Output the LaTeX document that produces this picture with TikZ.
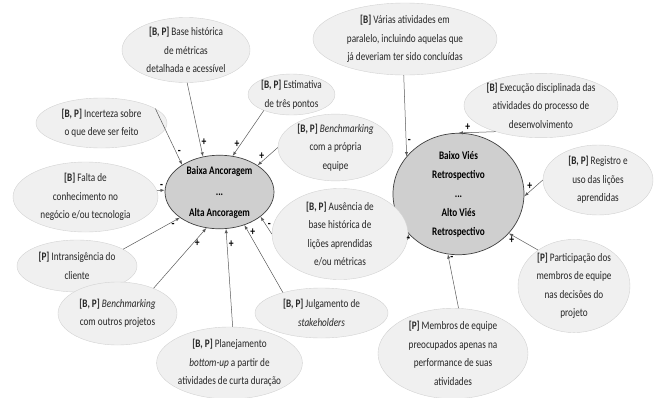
\documentclass[tikz,border=0pt]{standalone}
\usepackage{fontspec}
\setmainfont{Carlito}[FakeStretch=0.8]
\usetikzlibrary{shapes.geometric}

\begin{document}
\begin{tikzpicture}[x=1pt,y=-1pt,
    fator/.style={ellipse,draw=gray!35,fill=gray!12,inner sep=0pt,align=center,
      text=black!85,font=\fontsize{11.5}{18.5}\selectfont},
    vies/.style={ellipse,draw=black!75,line width=0.7pt,fill=gray!38,inner sep=0pt,
      align=center,font=\bfseries\fontsize{11.5}{19}\selectfont},
    seta/.style={draw=black!65,line width=0.5pt,-latex},
    sinal/.style={font=\bfseries\fontsize{12}{12}\selectfont,inner sep=1.5pt}]
    \useasboundingbox (0,0) rectangle (654,397);
    % centrais
    \node[vies,minimum width=109,minimum height=70] (anc) at (219.5,192)
      {Baixa Ancoragem\\[2pt]...\\[2pt]Alta Ancoragem};
    \node[vies,minimum width=131,minimum height=100] (ret) at (458.5,194)
      {Baixo Viés\\Retrospectivo\\...\\Alto Viés\\Retrospectivo};
    % fatores
    \node[fator,minimum width=128,minimum height=65] (base) at (186,50)
      {\textbf{[B, P]} Base histórica\\de métricas\\detalhada e acessível};
    \node[fator,minimum width=87,minimum height=41] (estim) at (291.5,94.5)
      {\textbf{[B, P]} Estimativa\\de três pontos};
    \node[fator,minimum width=131,minimum height=50] (incert) at (101.5,123)
      {\textbf{[B, P]} Incerteza sobre\\o que deve ser feito};
    \node[fator,minimum width=145,minimum height=70] (falta) at (85.5,197)
      {\textbf{[B]} Falta de\\conhecimento no\\negócio e/ou tecnologia};
    \node[fator,minimum width=120,minimum height=52] (intrans) at (77,266)
      {\textbf{[P]} Intransigência do\\cliente};
    \node[fator,minimum width=119,minimum height=63] (benchout) at (117.5,313.5)
      {\textbf{[B, P]} \textit{Benchmarking}\\com outros projetos};
    \node[fator,minimum width=145,minimum height=72] (planej) at (229.5,363)
      {\textbf{[B, P]} Planejamento\\\textit{bottom-up} a partir de\\atividades de curta duração};
    \node[fator,minimum width=133,minimum height=50] (julg) at (321.5,313)
      {\textbf{[B, P]} Julgamento de\\\textit{stakeholders}};
    \node[fator,minimum width=136,minimum height=84] (ausen) at (340,234)
      {\textbf{[B, P]} Ausência de\\base histórica de\\lições aprendidas\\e/ou métricas};
    \node[fator,minimum width=115,minimum height=65] (benchprop) at (335.5,147.5)
      {\textbf{[B, P]} \textit{Benchmarking}\\com a própria\\equipe};
    \node[fator,minimum width=184,minimum height=72] (varias) at (405,39)
      {\textbf{[B]} Várias atividades em\\paralelo, incluindo aquelas que\\já deveriam ter sido concluídas};
    \node[fator,minimum width=142,minimum height=55] (exec) at (541,105.5)
      {\textbf{[B]} Execução disciplinada das\\atividades do processo de\\desenvolvimento};
    \node[fator,minimum width=110,minimum height=70] (regist) at (598,180)
      {\textbf{[B, P]} Registro e\\uso das lições\\aprendidas};
    \node[fator,minimum width=112,minimum height=92] (partic) at (574,286)
      {\textbf{[P]} Participação dos\\membros de equipe\\nas decisões do\\projeto};
    \node[fator,minimum width=150,minimum height=82] (membros) at (453,353.5)
      {\textbf{[P]} Membros de equipe\\preocupados apenas na\\performance de suas\\atividades};
    % setas para ancoragem
    \draw[seta] (base.-88) -- node[sinal,pos=0.8,right] {+} (anc.115);
    \draw[seta] (estim.-150) -- node[sinal,pos=0.73,left] {+} (anc.70);
    \draw[seta] (benchprop.180) -- node[sinal,pos=0.8,above] {+} (anc.35);
    \draw[seta] (incert.15) -- node[sinal,pos=0.78,right] {-} (anc.144);
    \draw[seta] (falta.5) -- node[sinal,pos=0.6,above] {-} (anc.178);
    \draw[seta] (intrans.20) -- node[sinal,pos=0.88,below] {-} (anc.-147);
    \draw[seta] (benchout.35) -- node[sinal,pos=0.75,right] {+} (anc.-110);
    \draw[seta] (planej.85) -- node[sinal,pos=0.84,right] {+} (anc.-80);
    \draw[seta] (julg.152) -- node[sinal,pos=0.89,right] {+} (anc.-53);
    \draw[seta] (ausen.180) -- node[sinal,pos=0.5,right] {-} (anc.-31);
    % setas para vies retrospectivo
    \draw[seta] (varias.-92) -- node[sinal,pos=0.82,right] {-} (ret.144);
    \draw[seta] (exec.-150) -- node[sinal,pos=0.75,above] {+} (ret.90);
    \draw[seta] (regist.180) -- node[sinal,pos=0.7,above] {+} (ret.-2);
    \draw[seta] (ausen.-5) -- node[sinal,pos=0.8,below] {-} (ret.-141);
    \draw[seta] (partic.135) -- node[sinal,pos=0.9,below] {+} (ret.-38);
    \draw[seta] (membros.83) -- node[sinal,pos=0.92,right] {-} (ret.-100);
\end{tikzpicture}
\end{document}
